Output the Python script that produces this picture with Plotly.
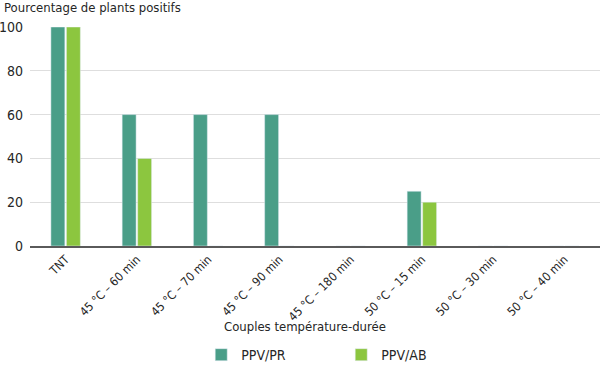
import plotly.graph_objects as go

categories = ["TNT", "45 °C – 60 min", "45 °C – 70 min", "45 °C – 90 min",
              "45 °C – 180 min", "50 °C – 15 min", "50 °C – 30 min", "50 °C – 40 min"]
ppv_pr = [100, 60, 60, 60, 0, 25, 0, 0]
ppv_ab = [100, 40, 0, 0, 0, 20, 0, 0]
y_ticks = [0, 20, 40, 60, 80, 100]

FONT = "Liberation Sans Narrow, DejaVu Sans Condensed, Roboto, sans-serif"
TXT = "#262626"

fig = go.Figure()
fig.add_trace(go.Bar(name="PPV/PR", x=categories, y=ppv_pr, marker_color="#4a9e88"))
fig.add_trace(go.Bar(name="PPV/AB", x=categories, y=ppv_ab, marker_color="#8cc63f"))

fig.update_layout(
    width=600, height=365,
    margin=dict(l=30, r=0, t=27, b=119, autoexpand=False),
    paper_bgcolor="white", plot_bgcolor="white",
    barmode="group", bargap=0.565, bargroupgap=0.1,
    font=dict(family=FONT, size=13, color=TXT),
    showlegend=True,
    legend=dict(orientation="h", x=0.546, xanchor="center", y=-0.498, yanchor="middle",
                entrywidth=95, entrywidthmode="pixels", font=dict(size=14)),
    xaxis=dict(type="category", tickangle=-45, showgrid=False, showline=True,
               linecolor="#5a5a5a", linewidth=1.5, ticks="", tickfont=dict(size=12),
               automargin=False),
    yaxis=dict(range=[0, 100], tickvals=y_ticks, showgrid=True, gridcolor="#dedede",
               zeroline=False, showline=False, ticks="", tickfont=dict(size=14),
               ticklabelstandoff=6, automargin=False),
    annotations=[
        dict(text="Pourcentage de plants positifs", xref="paper", yref="paper",
             x=-28/570, y=1 + 19/219, xanchor="left", yanchor="middle",
             showarrow=False, font=dict(size=13)),
        dict(text="Couples température-durée", xref="paper", yref="paper",
             x=(305 - 30)/570, y=-(326 - 246)/219, xanchor="center", yanchor="middle",
             showarrow=False, font=dict(size=13)),
    ],
)
fig.write_html("out.html", config={"displayModeBar": False},
               post_script="document.body.style.margin='0';")
